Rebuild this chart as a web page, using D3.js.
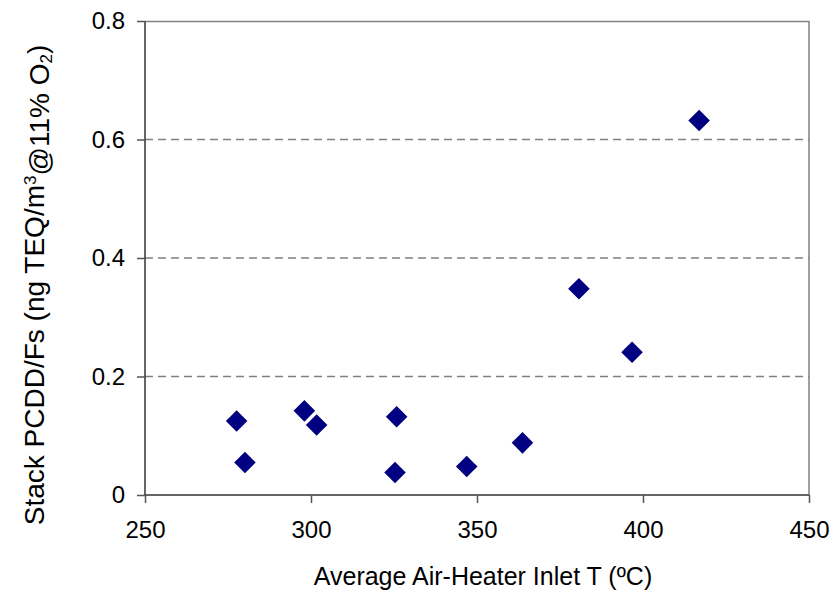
<!DOCTYPE html>
<html>
<head>
<meta charset="utf-8">
<script src="https://cdn.jsdelivr.net/npm/d3@7"></script>
<style>
  body { margin: 0; background: #fff; }
  svg { font-family: "Liberation Sans", Arial, sans-serif; }
</style>
</head>
<body>
<div id="chart"></div>
<script>
// data
const inletTemp = [277.6, 280.1, 298.0, 301.7, 325.8, 325.3, 346.9, 363.7, 380.7, 396.7, 416.9];
const pcddf     = [0.125, 0.055, 0.142, 0.118, 0.132, 0.038, 0.048, 0.088, 0.348, 0.241, 0.632];
const xTicks = [250, 300, 350, 400, 450];
const yTicks = [0, 0.2, 0.4, 0.6, 0.8];

var data = inletTemp.map(function(t, i) { return {t: t, v: pcddf[i]}; });

// setup canvas
var svg_width = 836, svg_height = 592;
var svg = d3.select("#chart").append("svg")
  .attr("width", svg_width)
  .attr("height", svg_height);
var margin = {top: 21, right: 27, bottom: 97, left: 145};
var w = svg_width - margin.left - margin.right;
var h = svg_height - margin.top - margin.bottom;

var g = svg.append("g")
  .attr("transform", "translate(" + margin.left + "," + margin.top + ")");

var x = d3.scaleLinear().domain([250, 450]).range([0, w]);
var y = d3.scaleLinear().domain([0, 0.8]).range([h, 0]);

// dashed gridlines
g.append("g").selectAll("line")
  .data(yTicks.filter(function(d) { return d > 0 && d < 0.8; }))
  .enter().append("line")
    .attr("x1", 0).attr("x2", w)
    .attr("y1", function(d) { return y(d); })
    .attr("y2", function(d) { return y(d); })
    .attr("stroke", "#808080")
    .attr("stroke-width", 1.3)
    .attr("stroke-dasharray", "8,5");

// plot area border (top + right)
g.append("path")
  .attr("d", "M0,0.5H" + w + "V" + h)
  .attr("fill", "none")
  .attr("stroke", "#808080")
  .attr("stroke-width", 1.5);

// x-axis
var xAxis = g.append("g")
  .attr("transform", "translate(0," + h + ")")
  .call(d3.axisBottom(x).tickValues(xTicks).tickSize(8).tickPadding(18).tickFormat(d3.format("d")));

// y-axis
var yAxis = g.append("g")
  .call(d3.axisLeft(y).tickValues(yTicks).tickSize(8).tickPadding(12)
    .tickFormat(function(d) { return d === 0 ? "0" : d3.format(".1f")(d); }));

[xAxis, yAxis].forEach(function(a) {
  a.select(".domain").attr("stroke", "#333").attr("stroke-width", 1.5)
    .attr("d", a === xAxis ? "M0,0H" + w : "M0,0V" + h);
  a.selectAll(".tick line").attr("stroke", "#555").attr("stroke-width", 1.5);
  a.selectAll(".tick text").attr("fill", "#000").style("font-size", "24px")
    .style("font-family", "'Liberation Sans', Arial, sans-serif");
});

// markers
g.append("g").selectAll("path")
  .data(data)
  .enter().append("path")
    .attr("d", d3.symbol().type(d3.symbolSquare).size(232))
    .attr("transform", function(d) { return "translate(" + x(d.t) + "," + y(d.v) + ") rotate(45)"; })
    .attr("fill", "#000080");

// axis titles
svg.append("text")
  .attr("x", 483)
  .attr("y", 585)
  .attr("text-anchor", "middle")
  .style("font-size", "25px")
  .text("Average Air-Heater Inlet T (ºC)");

var yt = svg.append("text")
  .attr("transform", "translate(44,285) rotate(-90)")
  .attr("text-anchor", "middle")
  .style("font-size", "28px");
yt.append("tspan").text("Stack PCDD/Fs (ng TEQ/m");
yt.append("tspan").attr("dy", "-0.45em").style("font-size", "17px").text("3");
yt.append("tspan").attr("dy", "0.45em").text("@11% O");
yt.append("tspan").attr("dy", "0.2em").style("font-size", "17px").text("2");
yt.append("tspan").attr("dy", "-0.2em").text(")");
</script>
</body>
</html>
